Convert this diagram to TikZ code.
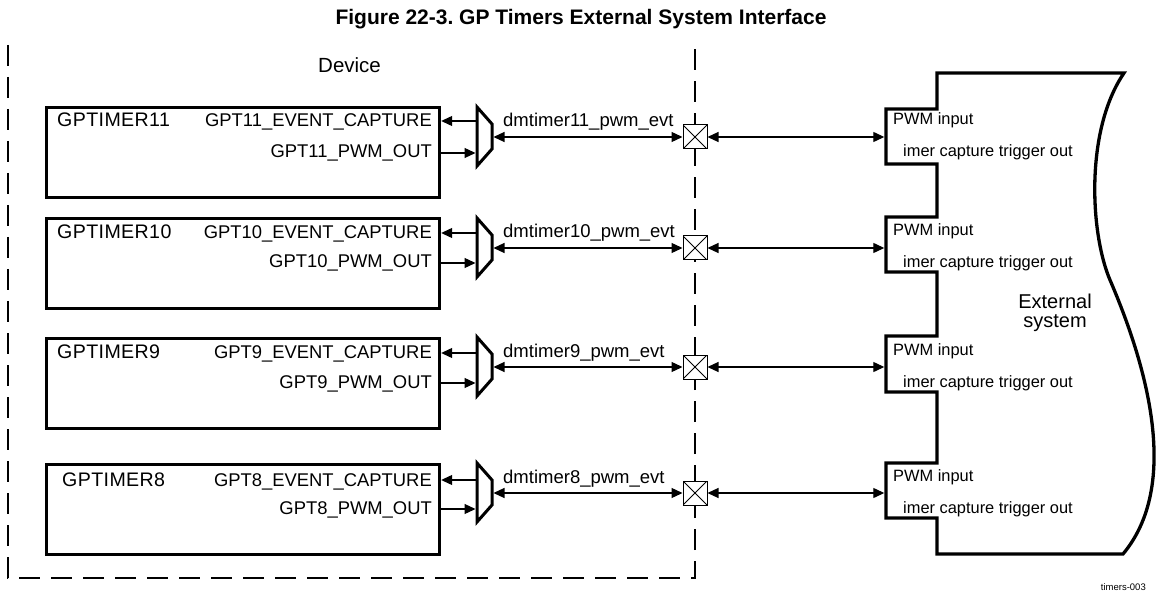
\documentclass[tikz,border=0pt]{standalone}
\usepackage{fontspec}
\setmainfont{Liberation Sans}
\usetikzlibrary{arrows.meta}
\frenchspacing
\begin{document}
\begin{tikzpicture}[x=1pt,y=-1pt,
  tbox/.style={draw, line width=3.2pt, minimum width=393pt, minimum height=90pt, anchor=north west, inner sep=0pt},
  sig/.style={font=\fontsize{18.4}{20}\selectfont, anchor=base east, inner sep=0pt},
  tname/.style={font=\fontsize{19.6}{20}\selectfont\addfontfeature{LetterSpace=2}, anchor=base west, inner sep=0pt},
  evt/.style={font=\fontsize{18.5}{20}\selectfont, anchor=base west, inner sep=0pt},
  ext/.style={font=\fontsize{16.4}{18}\selectfont, anchor=base west, inner sep=0pt},
  conn/.style={line width=1.2pt, -{Triangle[length=11pt,width=10pt]}},
  dconn/.style={line width=1.2pt, {Triangle[length=11pt,width=10pt]}-{Triangle[length=11pt,width=10pt]}},
  xbox/.style={draw, line width=1pt, fill=white, minimum size=24pt, inner sep=0pt,
    path picture={\draw[line width=0.8pt] (path picture bounding box.south west) -- (path picture bounding box.north east)
      (path picture bounding box.north west) -- (path picture bounding box.south east);}},
  muxshape/.style={draw, line width=3pt, fill=white, line join=miter},
  devline/.style={line width=1.1pt, dash pattern=on 21pt off 11pt},
  extshape/.style={draw, line width=3.3pt, fill=white, line join=miter}
]
\useasboundingbox (0,0) rectangle (1161,601);

\node[font=\fontsize{21}{24}\selectfont\bfseries, anchor=base, inner sep=0pt] (title) at (581,25) {Figure 22-3. GP Timers External System Interface};

% device boundary
\coordinate (dtl) at (8,45);
\coordinate (dbl) at (8,578);
\coordinate (dbr) at (695,578);
\coordinate (dtr) at (695,45);
\draw[devline] (dtl) -- (dbl) -- (dbr) -- (dtr);
\node[font=\fontsize{20.5}{22}\selectfont, anchor=base west, inner sep=0pt] (device) at (318,73) {Device};

% external system
\draw[extshape] (937,73) -- (1124,73)
  .. controls (1085,130) and (1090,233) .. (1110,280)
  .. controls (1140,350) and (1185,480) .. (1123,554)
  -- (937,554) -- (937,518) -- (886,518) -- (886,463) -- (937,463)
  -- (937,392) -- (886,392) -- (886,336) -- (937,336)
  -- (937,272) -- (886,272) -- (886,217) -- (937,217)
  -- (937,164) -- (886,164) -- (886,109) -- (937,109) -- cycle;
\node[font=\fontsize{20}{19}\selectfont, align=center, anchor=north, inner sep=0pt] (extsys) at (1055,294) {External\\system};

\foreach \n/\y/\bt/\ye/\yp/\xl in {11/137/106/121/153/57, 10/248/217/233/263/57, 9/367/337/353/383/57, 8/493/463/480/509/62}{
  \node[tbox] (b\n) at (45,\bt) {};
  \node[tname] (t\n) at (\xl,{\ye+6}) {GPTIMER\n};
  \node[sig] (e\n) at (432,{\ye+6}) {GPT\n\_EVENT\_CAPTURE};
  \node[sig] (p\n) at (432,{\yp+5}) {GPT\n\_PWM\_OUT};
  \draw[muxshape] (477,{\y-30}) -- (492,{\y-13}) -- (492,{\y+12}) -- (477,{\y+29}) -- cycle;
  \coordinate (me\n) at (475.5,\ye);
  \coordinate (mp\n) at (475.5,\yp);
  \coordinate (mo\n) at (493.5,\y);
  \draw[conn] (me\n) -- (b\n.east |- me\n);
  \draw[conn] (b\n.east |- mp\n) -- (mp\n);
  \node[xbox] (x\n) at (695,\y) {};
  \draw[dconn] (mo\n) -- (x\n.west);
  \node[evt] (l\n) at (503,{\y-10}) {dmtimer\n\_pwm\_evt};
  \coordinate (es\n) at (884.3,\y);
  \draw[dconn] (x\n.east) -- (es\n);
  \node[ext] (pi\n) at (893,{\y-12}) {PWM input};
  \node[ext] (ct\n) at (903,{\y+20}) {imer capture trigger out};
}

\node[font=\fontsize{9.5}{11}\selectfont, anchor=base east, inner sep=0pt] (fig) at (1146,590) {timers-003};
\end{tikzpicture}
\end{document}
